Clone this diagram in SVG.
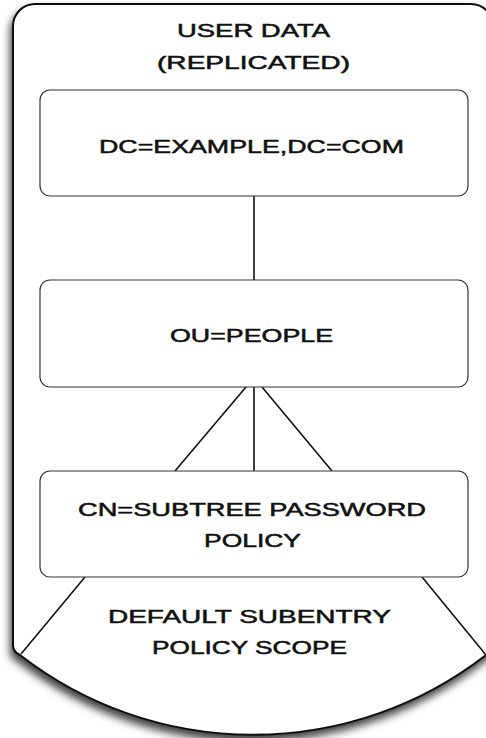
<svg xmlns="http://www.w3.org/2000/svg" width="486" height="738" viewBox="0 0 486 738">
<defs>
<filter id="shadow" x="-10%" y="-10%" width="120%" height="120%">
<feDropShadow dx="-2" dy="6" stdDeviation="4" flood-color="#000" flood-opacity="0.75"/>
</filter>
</defs>
<style>
.lbl{font-family:"Liberation Sans",Arial,sans-serif;font-size:18px;fill:#111;stroke:#111;stroke-width:0.5;}
.box{fill:#fff;stroke:#333;stroke-width:1.2;}
.edge{stroke:#111;stroke-width:1.6;fill:none;}
</style>
<rect width="486" height="738" fill="#fff"/>
<g id="container">
<path d="M13,26 A22,22 0 0 1 35,4 L471,4 A22,22 0 0 1 493,26 L493,645 Q493,652 486,655 A380,380 0 0 1 20,655 Q13,652 13,645 Z" fill="#fff" stroke="#111" stroke-width="2" filter="url(#shadow)"/>
<text class="lbl" x="177" y="37" textLength="153" lengthAdjust="spacingAndGlyphs">USER DATA</text>
<text class="lbl" x="157" y="69" textLength="193" lengthAdjust="spacingAndGlyphs">(REPLICATED)</text>
</g>
<g id="connectors">
<line class="edge" x1="254" y1="196" x2="254" y2="280"/>
<line class="edge" x1="246" y1="387" x2="175" y2="471"/>
<line class="edge" x1="254" y1="387" x2="254" y2="471"/>
<line class="edge" x1="262" y1="387" x2="332" y2="471"/>
<line class="edge" x1="85" y1="577" x2="21" y2="654"/>
<line class="edge" x1="422" y1="577" x2="486" y2="655"/>
</g>
<g id="dc-example">
<rect class="box" x="40" y="90" width="428" height="106" rx="10"/>
<text class="lbl" x="99" y="153" textLength="305" lengthAdjust="spacingAndGlyphs">DC=EXAMPLE,DC=COM</text>
</g>
<g id="ou-people">
<rect class="box" x="40" y="280" width="428" height="107" rx="10"/>
<text class="lbl" x="170" y="342" textLength="163" lengthAdjust="spacingAndGlyphs">OU=PEOPLE</text>
</g>
<g id="cn-policy">
<rect class="box" x="40" y="471" width="428" height="106" rx="10"/>
<text class="lbl" x="78" y="516" textLength="348" lengthAdjust="spacingAndGlyphs">CN=SUBTREE PASSWORD</text>
<text class="lbl" x="204" y="547" textLength="97" lengthAdjust="spacingAndGlyphs">POLICY</text>
</g>
<g id="scope">
<text class="lbl" x="108" y="623" textLength="283" lengthAdjust="spacingAndGlyphs">DEFAULT SUBENTRY</text>
<text class="lbl" x="152" y="654" textLength="195" lengthAdjust="spacingAndGlyphs">POLICY SCOPE</text>
</g>
</svg>
